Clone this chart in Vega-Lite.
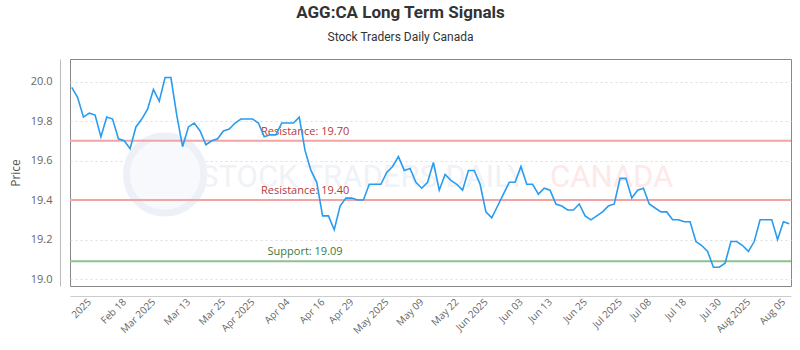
{
  "$schema": "https://vega.github.io/schema/vega-lite/v6.json",
  "width": 721,
  "height": 227,
  "autosize": "none",
  "padding": {"left": 70, "top": 59, "right": 9, "bottom": 64},
  "background": "white",
  "title": {
    "text": "AGG:CA Long Term Signals",
    "subtitle": "Stock Traders Daily Canada",
    "anchor": "middle",
    "dx": -30,
    "font": "Roboto",
    "fontSize": 17,
    "fontWeight": "bold",
    "color": "#333333",
    "subtitleFont": "Roboto",
    "subtitleFontSize": 12,
    "subtitleColor": "#333333",
    "subtitlePadding": 10,
    "offset": 15
  },
  "config": {
    "view": {"stroke": "#888888", "strokeWidth": 1},
    "axis": {"labelFont": "Open Sans", "titleFont": "Open Sans"}
  },
  "datasets": {
    "prices": [
      {"date": "2025-02-10", "price": 19.97}, {"date": "2025-02-11", "price": 19.92}, {"date": "2025-02-12", "price": 19.82}, {"date": "2025-02-13", "price": 19.84}, {"date": "2025-02-14", "price": 19.83},
      {"date": "2025-02-18", "price": 19.72}, {"date": "2025-02-19", "price": 19.82}, {"date": "2025-02-20", "price": 19.81}, {"date": "2025-02-21", "price": 19.71}, {"date": "2025-02-24", "price": 19.70},
      {"date": "2025-02-25", "price": 19.66}, {"date": "2025-02-26", "price": 19.77}, {"date": "2025-02-27", "price": 19.81}, {"date": "2025-02-28", "price": 19.86}, {"date": "2025-03-03", "price": 19.96},
      {"date": "2025-03-04", "price": 19.90}, {"date": "2025-03-05", "price": 20.02}, {"date": "2025-03-06", "price": 20.02}, {"date": "2025-03-07", "price": 19.83}, {"date": "2025-03-10", "price": 19.67},
      {"date": "2025-03-11", "price": 19.77}, {"date": "2025-03-12", "price": 19.79}, {"date": "2025-03-13", "price": 19.75}, {"date": "2025-03-14", "price": 19.68}, {"date": "2025-03-17", "price": 19.70},
      {"date": "2025-03-18", "price": 19.71}, {"date": "2025-03-19", "price": 19.75}, {"date": "2025-03-20", "price": 19.76}, {"date": "2025-03-21", "price": 19.79}, {"date": "2025-03-24", "price": 19.81},
      {"date": "2025-03-25", "price": 19.81}, {"date": "2025-03-26", "price": 19.81}, {"date": "2025-03-27", "price": 19.79}, {"date": "2025-03-28", "price": 19.72}, {"date": "2025-03-31", "price": 19.73},
      {"date": "2025-04-01", "price": 19.73}, {"date": "2025-04-02", "price": 19.79}, {"date": "2025-04-03", "price": 19.79}, {"date": "2025-04-04", "price": 19.79}, {"date": "2025-04-07", "price": 19.82},
      {"date": "2025-04-08", "price": 19.65}, {"date": "2025-04-09", "price": 19.55}, {"date": "2025-04-10", "price": 19.49}, {"date": "2025-04-11", "price": 19.32}, {"date": "2025-04-14", "price": 19.32},
      {"date": "2025-04-15", "price": 19.25}, {"date": "2025-04-16", "price": 19.37}, {"date": "2025-04-17", "price": 19.41}, {"date": "2025-04-21", "price": 19.41}, {"date": "2025-04-22", "price": 19.40},
      {"date": "2025-04-23", "price": 19.40}, {"date": "2025-04-24", "price": 19.48}, {"date": "2025-04-25", "price": 19.48}, {"date": "2025-04-28", "price": 19.48}, {"date": "2025-04-29", "price": 19.54},
      {"date": "2025-04-30", "price": 19.57}, {"date": "2025-05-01", "price": 19.62}, {"date": "2025-05-02", "price": 19.55}, {"date": "2025-05-05", "price": 19.56}, {"date": "2025-05-06", "price": 19.49},
      {"date": "2025-05-07", "price": 19.46}, {"date": "2025-05-08", "price": 19.49}, {"date": "2025-05-09", "price": 19.59}, {"date": "2025-05-12", "price": 19.45}, {"date": "2025-05-13", "price": 19.53},
      {"date": "2025-05-14", "price": 19.50}, {"date": "2025-05-15", "price": 19.48}, {"date": "2025-05-16", "price": 19.45}, {"date": "2025-05-20", "price": 19.55}, {"date": "2025-05-21", "price": 19.55},
      {"date": "2025-05-22", "price": 19.48}, {"date": "2025-05-23", "price": 19.34}, {"date": "2025-05-26", "price": 19.31}, {"date": "2025-05-27", "price": 19.37}, {"date": "2025-05-28", "price": 19.43},
      {"date": "2025-05-29", "price": 19.49}, {"date": "2025-05-30", "price": 19.49}, {"date": "2025-06-02", "price": 19.57}, {"date": "2025-06-03", "price": 19.48}, {"date": "2025-06-04", "price": 19.48},
      {"date": "2025-06-05", "price": 19.43}, {"date": "2025-06-06", "price": 19.46}, {"date": "2025-06-09", "price": 19.45}, {"date": "2025-06-10", "price": 19.38}, {"date": "2025-06-11", "price": 19.37},
      {"date": "2025-06-12", "price": 19.35}, {"date": "2025-06-13", "price": 19.35}, {"date": "2025-06-16", "price": 19.38}, {"date": "2025-06-17", "price": 19.32}, {"date": "2025-06-18", "price": 19.30},
      {"date": "2025-06-19", "price": 19.32}, {"date": "2025-06-20", "price": 19.34}, {"date": "2025-06-23", "price": 19.37}, {"date": "2025-06-24", "price": 19.38}, {"date": "2025-06-25", "price": 19.51},
      {"date": "2025-06-26", "price": 19.51}, {"date": "2025-06-27", "price": 19.41}, {"date": "2025-06-30", "price": 19.45}, {"date": "2025-07-02", "price": 19.46}, {"date": "2025-07-03", "price": 19.38},
      {"date": "2025-07-04", "price": 19.36}, {"date": "2025-07-07", "price": 19.34}, {"date": "2025-07-08", "price": 19.34}, {"date": "2025-07-09", "price": 19.30}, {"date": "2025-07-10", "price": 19.30},
      {"date": "2025-07-11", "price": 19.29}, {"date": "2025-07-14", "price": 19.29}, {"date": "2025-07-15", "price": 19.19}, {"date": "2025-07-16", "price": 19.17}, {"date": "2025-07-17", "price": 19.14},
      {"date": "2025-07-18", "price": 19.06}, {"date": "2025-07-21", "price": 19.06}, {"date": "2025-07-22", "price": 19.08}, {"date": "2025-07-23", "price": 19.19}, {"date": "2025-07-24", "price": 19.19},
      {"date": "2025-07-25", "price": 19.17}, {"date": "2025-07-28", "price": 19.14}, {"date": "2025-07-29", "price": 19.19}, {"date": "2025-07-30", "price": 19.30}, {"date": "2025-07-31", "price": 19.30},
      {"date": "2025-08-01", "price": 19.30}, {"date": "2025-08-05", "price": 19.20}, {"date": "2025-08-06", "price": 19.29}, {"date": "2025-08-07", "price": 19.28}
    ],
    "levels": [
      {"kind": "Resistance", "level": 19.70, "label": "Resistance: 19.70"},
      {"kind": "Resistance", "level": 19.40, "label": "Resistance: 19.40"},
      {"kind": "Support", "level": 19.09, "label": "Support: 19.09"}
    ]
  },
  "layer": [
    {
      "data": {"values": [{"mark": "logo"}]},
      "mark": {"type": "point", "filled": false, "shape": "circle", "size": 6000, "stroke": "#edf1f7", "strokeWidth": 7, "fill": "#f7f9fc", "fillOpacity": 1, "opacity": 1},
      "encoding": {
        "x": {"datum": "2025-03-05", "type": "ordinal"},
        "y": {"datum": 19.53, "type": "quantitative"}
      }
    },
    {
      "data": {"values": [{"word": "STOCK TRADERS DAILY", "part": "a", "at": "2025-03-13"}, {"word": "CANADA", "part": "b", "at": "2025-06-09"}]},
      "mark": {"type": "text", "align": "left", "baseline": "middle", "font": "Roboto", "fontSize": 31, "opacity": 1},
      "encoding": {
        "x": {"field": "at", "type": "ordinal"},
        "y": {"datum": 19.51, "type": "quantitative"},
        "text": {"field": "word"},
        "fill": {"field": "part", "type": "nominal", "scale": {"domain": ["a", "b"], "range": ["#eff2f7", "#fde9e9"]}, "legend": null}
      }
    },
    {
      "data": {"name": "levels"},
      "mark": {"type": "rule", "strokeWidth": 2},
      "encoding": {
        "y": {"field": "level", "type": "quantitative"},
        "stroke": {"field": "kind", "type": "nominal", "scale": {"domain": ["Resistance", "Support"], "range": ["#f2a4a4", "#8cc28c"]}, "legend": null}
      }
    },
    {
      "data": {"name": "levels"},
      "mark": {"type": "text", "align": "center", "baseline": "middle", "dy": -9, "font": "Open Sans", "fontSize": 11},
      "encoding": {
        "x": {"datum": "2025-04-08", "type": "ordinal"},
        "y": {"field": "level", "type": "quantitative"},
        "text": {"field": "label"},
        "color": {"field": "kind", "type": "nominal", "scale": {"domain": ["Resistance", "Support"], "range": ["#b23a3a", "#3b7a3b"]}, "legend": null}
      }
    },
    {
      "data": {"name": "prices"},
      "mark": {"type": "line", "color": "#2a9cf0", "strokeWidth": 1.6},
      "encoding": {
        "x": {
          "field": "date",
          "type": "ordinal",
          "scale": {"type": "point", "padding": 0.3},
          "axis": {
            "title": null,
            "values": ["2025-02-13", "2025-02-24", "2025-03-03", "2025-03-11", "2025-03-19", "2025-03-26", "2025-04-03", "2025-04-11", "2025-04-21", "2025-04-29", "2025-05-07", "2025-05-15", "2025-05-23", "2025-06-02", "2025-06-09", "2025-06-17", "2025-06-25", "2025-07-03", "2025-07-11", "2025-07-21", "2025-07-28", "2025-08-06"],
            "labelExpr": "{'2025-02-13':'2025','2025-02-24':'Feb 18','2025-03-03':'Mar 2025','2025-03-11':'Mar 13','2025-03-19':'Mar 25','2025-03-26':'Apr 2025','2025-04-03':'Apr 04','2025-04-11':'Apr 16','2025-04-21':'Apr 29','2025-04-29':'May 2025','2025-05-07':'May 09','2025-05-15':'May 22','2025-05-23':'Jun 2025','2025-06-02':'Jun 03','2025-06-09':'Jun 13','2025-06-17':'Jun 25','2025-06-25':'Jul 2025','2025-07-03':'Jul 08','2025-07-11':'Jul 18','2025-07-21':'Jul 30','2025-07-28':'Aug 2025','2025-08-06':'Aug 05'}[datum.value]",
            "labelAngle": -45,
            "labelFontSize": 10,
            "labelColor": "#666666",
            "labelPadding": 4,
            "offset": 10,
            "ticks": false,
            "grid": false,
            "domainColor": "#cccccc"
          }
        },
        "y": {
          "field": "price",
          "type": "quantitative",
          "scale": {"domain": [18.965, 20.114], "nice": false, "zero": false},
          "axis": {
            "title": "Price",
            "titleFontSize": 12,
            "titleFontWeight": "normal",
            "titleColor": "#555555",
            "titlePadding": 8,
            "values": [19.0, 19.2, 19.4, 19.6, 19.8, 20.0],
            "format": ".1f",
            "labelFontSize": 11,
            "labelColor": "#666666",
            "labelPadding": 8,
            "offset": 10,
            "ticks": false,
            "grid": true,
            "gridDash": [2, 3],
            "gridColor": "#dddddd",
            "domainColor": "#bbbbbb"
          }
        }
      }
    }
  ]
}
